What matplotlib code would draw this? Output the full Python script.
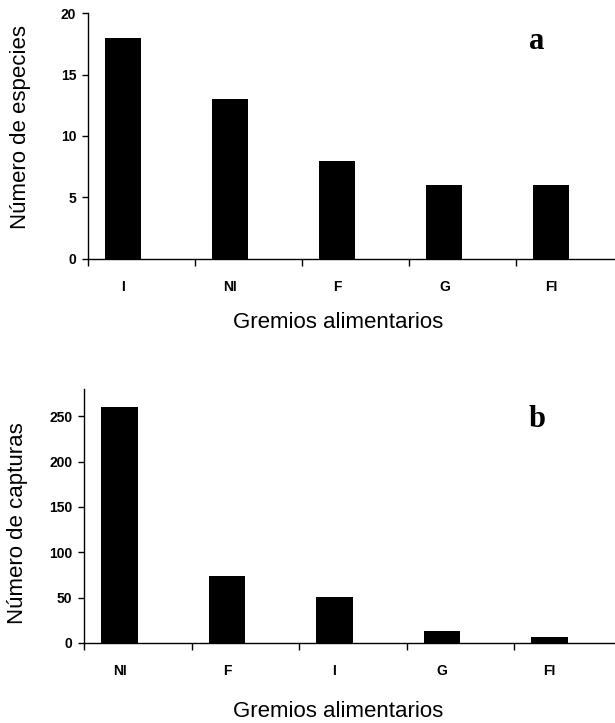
import matplotlib
matplotlib.use("Agg")
import matplotlib.pyplot as plt
from matplotlib.ticker import FixedLocator

plt.rcParams['font.family'] = ['Liberation Sans', 'DejaVu Sans']

# panel a: species per feeding guild
guilds_a = ["I", "NI", "F", "G", "FI"]
species = [18, 13, 8, 6, 6]

# panel b: captures per feeding guild
guilds_b = ["NI", "F", "I", "G", "FI"]
captures = [260, 74, 51, 13, 7]

XLABEL = "Gremios alimentarios"
OFFSET = 0.33  # separator ticks sit this far left of each bar centre


def style_axis(ax, cats, ylim, yticks, ylabel, tag, tag_xy, ylab_xy, xlab_xy):
    ax.set_xlim(-OFFSET, len(cats) - OFFSET)
    ax.set_ylim(*ylim)
    ax.set_yticks(yticks)
    ax.set_xticks(range(len(cats)))
    ax.set_xticklabels(cats)
    ax.xaxis.set_minor_locator(FixedLocator([i - OFFSET for i in range(len(cats) + 1)]))

    for side in ("top", "right"):
        ax.spines[side].set_visible(False)
    for side in ("left", "bottom"):
        ax.spines[side].set_linewidth(1.0)
        ax.spines[side].set_color("black")

    ax.tick_params(axis="x", which="major", length=0, pad=15)
    ax.tick_params(axis="x", which="minor", length=5, width=1.0, direction="out")
    ax.tick_params(axis="y", length=4, width=1.0, direction="out", pad=4.5)
    for lab in ax.get_xticklabels() + ax.get_yticklabels():
        lab.set_fontweight("bold")
        lab.set_fontsize(10)

    ax.set_ylabel(ylabel, fontsize=16, va="center")
    ax.yaxis.set_label_coords(*ylab_xy)
    ax.set_xlabel(XLABEL, fontsize=16, va="center")
    ax.xaxis.set_label_coords(*xlab_xy)

    ax.text(tag_xy[0], tag_xy[1], tag, transform=ax.transAxes,
            family="Liberation Serif", fontweight="bold", fontsize=22,
            ha="center", va="center")


fig = plt.figure(figsize=(6.15, 7.23), dpi=100)

ax1 = fig.add_axes([0.1431, 0.6418, 0.870, 0.3402])
ax1.bar(range(len(guilds_a)), species, width=0.337, color="black")
style_axis(ax1, guilds_a, (0, 20), range(0, 21, 5), "Número de especies",
           "a", (0.839, 0.886), (-0.127, 0.537), (0.468, -0.26))

ax2 = fig.add_axes([0.1366, 0.1107, 0.874, 0.3513])
ax2.bar(range(len(guilds_b)), captures, width=0.337, color="black")
style_axis(ax2, guilds_b, (0, 280), range(0, 251, 50), "Número de capturas",
           "b", (0.843, 0.878), (-0.123, 0.472), (0.473, -0.268))

fig.savefig("out.png", dpi=100)
